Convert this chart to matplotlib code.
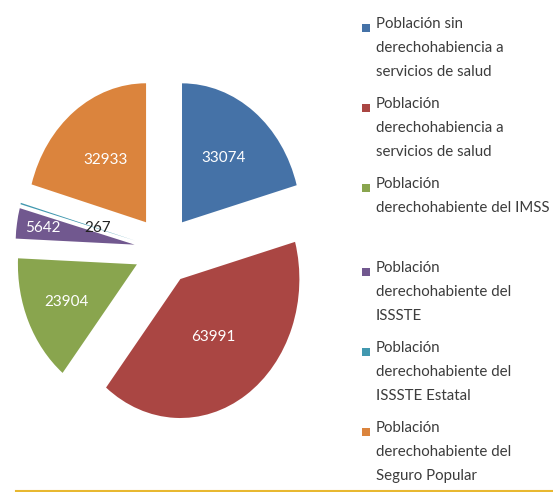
import matplotlib
matplotlib.use("Agg")
import matplotlib.pyplot as plt
from matplotlib.patches import Rectangle
from matplotlib.lines import Line2D
import numpy as np

categories = [
    "Población sin\nderechohabiencia a\nservicios de salud",
    "Población\nderechohabiencia a\nservicios de salud",
    "Población\nderechohabiente del IMSS",
    "Población\nderechohabiente del\nISSSTE",
    "Población\nderechohabiente del\nISSSTE Estatal",
    "Población\nderechohabiente del\nSeguro Popular",
]
values = [33074, 63991, 23904, 5642, 267, 32933]
colors = ["#4572A7", "#AA4643", "#89A54E", "#71588F", "#4198AF", "#DB843D"]
label_dist = [0.58, 0.50, 0.65, 0.78, 0.33, 0.56]
label_colors = ["white", "white", "white", "white", "#222222", "white"]

W, H = 553, 492
fig = plt.figure(figsize=(W / 100, H / 100), dpi=100)
fig.patch.set_facecolor("white")

# axes placement (pixels)
cx, cy = 164, 492 - 250
sx, sy = 119, 139
xr, yr = 1.35, 1.40
ax = fig.add_axes([(cx - xr * sx) / W, (cy - yr * sy) / H, 2 * xr * sx / W, 2 * yr * sy / H])

wedges, texts = ax.pie(values, colors=colors, startangle=90, counterclock=False,
                       explode=[0.25] * len(values),
                       wedgeprops=dict(linewidth=0))
ax.set_aspect("auto")
ax.set_xlim(-xr, xr)
ax.set_ylim(-yr, yr)
ax.axis("off")

for w, v, d, c in zip(wedges, values, label_dist, label_colors):
    th = np.deg2rad((w.theta1 + w.theta2) / 2)
    x = w.center[0] + d * np.cos(th)
    y = w.center[1] + d * np.sin(th)
    ax.text(x, y, f"{v}", ha="center", va="center", color=c,
            fontsize=11, family=["Lato", "DejaVu Sans"])

# legend
tops = [28, 108, 188, 272, 352, 432]
for cat, col, t in zip(categories, colors, tops):
    fig.patches.append(Rectangle(((362) / W, (H - t - 4) / H), 8 / W, 8 / H,
                                 transform=fig.transFigure, facecolor=col,
                                 edgecolor="none"))
    fig.text(376 / W, (H - t + 11) / H, cat, ha="left", va="top",
             fontsize=10.8, color="#3c3c3c", linespacing=1.9,
             family=["Lato", "DejaVu Sans"])

fig.lines.append(Line2D([16 / W, 1], [1.5 / H, 1.5 / H], transform=fig.transFigure,
                        color="#E8B830", linewidth=1.5))

fig.savefig("out.png", dpi=100)
